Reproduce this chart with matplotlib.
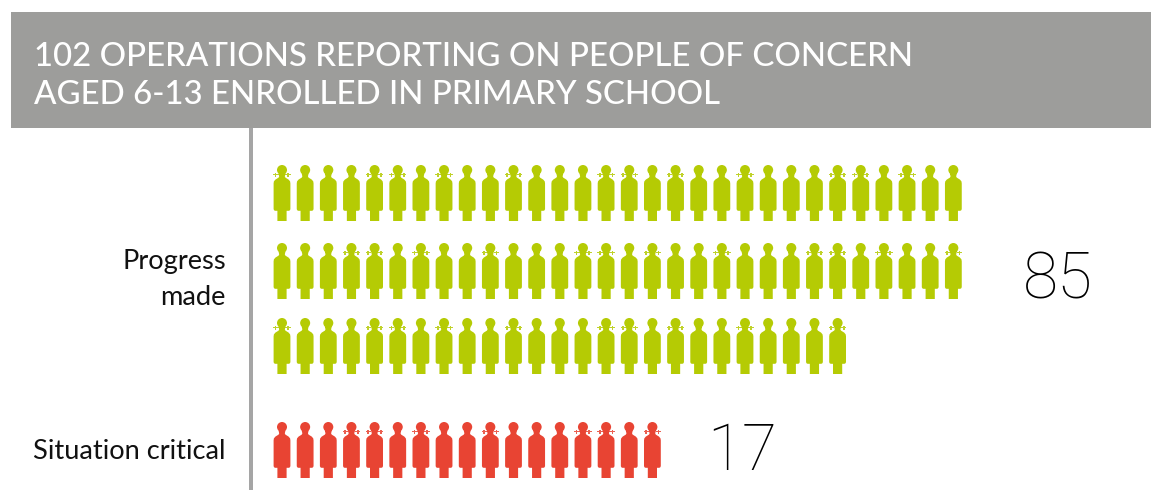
import matplotlib.pyplot as plt
import numpy as np

from matplotlib.patches import PathPatch, Rectangle
from matplotlib.path import Path
from matplotlib.transforms import Affine2D

TITLE_LINES = ['102 OPERATIONS REPORTING ON PEOPLE OF CONCERN',
               'AGED 6-13 ENROLLED IN PRIMARY SCHOOL']

# one list per drawn row of figures
PROGRESS_ROWS = [30, 30, 25]
CRITICAL_ROWS = [17]
PROGRESS_TOTAL = 85
CRITICAL_TOTAL = 17

# figures in each row that carry pigtails
PROGRESS_GIRLS = [
    [0, 4, 5, 7, 10, 14, 15, 17, 20, 24, 25, 27],
    [3, 4, 6, 9, 13, 14, 16, 19, 23, 24, 26, 29],
    [0, 4, 5, 7, 10, 14, 15, 17, 20, 24],
]
CRITICAL_GIRLS = [[3, 4, 6, 9, 13, 14, 16]]

GREEN = '#b5cb04'
RED = '#e84433'
GREY = '#9d9d9b'
AXIS_GREY = '#a5a5a5'
FONT = 'Lato'

X0 = 282.0
STEP = 23.15


def person_path():
    # outline in pixels, y grows downwards, origin at top of the head
    head = Path.circle((0, 5.0), 5.0)
    right = [(0, 8), (3.4, 8.8), (2.8, 11.4), (3.4, 12.6), (6.6, 14.6), (8.1, 16.4), (8.4, 18.4),
             (8.4, 44.2), (7.8, 45.4), (6.8, 45.8), (4.6, 45.8), (4.6, 56)]
    left = [(-x, y) for x, y in reversed(right)]
    body = Path(right + left[:-1] + [(0, 8)], closed=True)
    return Path.make_compound_path(head, body)


def pigtail_path():
    parts = []
    for side in (-1, 1):
        # thin tie from the head plus a little cross
        parts.append(Path.unit_rectangle().transformed(
            Affine2D().scale(5.4, 1.4).translate(side * 6.0 - 2.7, 9.0)))
        parts.append(Path.unit_rectangle().transformed(
            Affine2D().scale(1.6, 4.0).translate(side * 6.3 - 0.8, 7.7)))
    return Path.make_compound_path(*parts)


def draw_people(ax, rows, girls, tops, color):
    person = person_path()
    tails = pigtail_path()
    offset = Affine2D()
    for count, girl_idx, top in zip(rows, girls, tops):
        for i, x in enumerate(X0 + STEP * np.arange(count)):
            offset.clear().translate(x, top)
            ax.add_patch(PathPatch(person.transformed(offset), fc=color, ec='none'))
            if i in girl_idx:
                ax.add_patch(PathPatch(tails.transformed(offset), fc=color, ec='none', alpha=0.85))


fig = plt.figure(figsize=(11.51, 4.90), dpi=100)
ax = fig.add_axes([0, 0, 1, 1])
ax.set_xlim(0, 1151)
ax.set_ylim(490, 0)
ax.axis('off')

# header band and the vertical baseline
ax.add_patch(Rectangle((11, 12), 1140, 116, fc=GREY, ec='none'))
ax.add_patch(Rectangle((249, 128), 4.5, 362, fc=AXIS_GREY, ec='none'))

for line, y in zip(TITLE_LINES, [66, 104]):
    ax.text(34, y, line, color='white', fontsize=23.75, family=FONT, weight='medium',
            va='baseline', ha='left')

draw_people(ax, PROGRESS_ROWS, PROGRESS_GIRLS, [165, 243, 318], GREEN)
draw_people(ax, CRITICAL_ROWS, CRITICAL_GIRLS, [422], RED)

ax.text(226, 269, 'Progress', color='#111111', fontsize=19.6, family=FONT, ha='right', va='baseline')
ax.text(226, 305, 'made', color='#111111', fontsize=19.6, family=FONT, ha='right', va='baseline')
ax.text(226, 459, 'Situation critical', color='#111111', fontsize=19.6, family=FONT, ha='right', va='baseline')

ax.text(1057.5, 298, str(PROGRESS_TOTAL), color='black', fontsize=46, family='Roboto', weight='light',
        ha='center', va='baseline')
ax.text(742, 470, str(CRITICAL_TOTAL), color='black', fontsize=46, family='Roboto', weight='light',
        ha='center', va='baseline')

fig.savefig('out.png', dpi=100)
